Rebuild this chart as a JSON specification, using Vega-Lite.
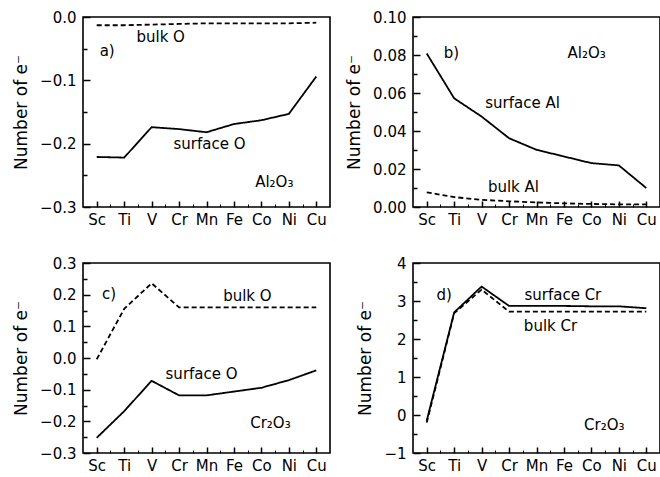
{
  "$schema": "https://vega.github.io/schema/vega-lite/v6.json",
  "padding": {"left": 11, "top": 9, "right": 1, "bottom": 2},
  "background": "white",
  "datasets": {
    "lines": [
      {"panel": "a", "series": "surface O", "kind": "surface", "el": "Sc", "Z": 21, "v": -0.221},
      {"panel": "a", "series": "surface O", "kind": "surface", "el": "Ti", "Z": 22, "v": -0.222},
      {"panel": "a", "series": "surface O", "kind": "surface", "el": "V", "Z": 23, "v": -0.174},
      {"panel": "a", "series": "surface O", "kind": "surface", "el": "Cr", "Z": 24, "v": -0.177},
      {"panel": "a", "series": "surface O", "kind": "surface", "el": "Mn", "Z": 25, "v": -0.182},
      {"panel": "a", "series": "surface O", "kind": "surface", "el": "Fe", "Z": 26, "v": -0.169},
      {"panel": "a", "series": "surface O", "kind": "surface", "el": "Co", "Z": 27, "v": -0.163},
      {"panel": "a", "series": "surface O", "kind": "surface", "el": "Ni", "Z": 28, "v": -0.153},
      {"panel": "a", "series": "surface O", "kind": "surface", "el": "Cu", "Z": 29, "v": -0.094},
      {"panel": "a", "series": "bulk O", "kind": "bulk", "el": "Sc", "Z": 21, "v": -0.013},
      {"panel": "a", "series": "bulk O", "kind": "bulk", "el": "Ti", "Z": 22, "v": -0.013},
      {"panel": "a", "series": "bulk O", "kind": "bulk", "el": "V", "Z": 23, "v": -0.012},
      {"panel": "a", "series": "bulk O", "kind": "bulk", "el": "Cr", "Z": 24, "v": -0.011},
      {"panel": "a", "series": "bulk O", "kind": "bulk", "el": "Mn", "Z": 25, "v": -0.010},
      {"panel": "a", "series": "bulk O", "kind": "bulk", "el": "Fe", "Z": 26, "v": -0.010},
      {"panel": "a", "series": "bulk O", "kind": "bulk", "el": "Co", "Z": 27, "v": -0.010},
      {"panel": "a", "series": "bulk O", "kind": "bulk", "el": "Ni", "Z": 28, "v": -0.010},
      {"panel": "a", "series": "bulk O", "kind": "bulk", "el": "Cu", "Z": 29, "v": -0.009},
      {"panel": "b", "series": "surface Al", "kind": "surface", "el": "Sc", "Z": 21, "v": 0.0808},
      {"panel": "b", "series": "surface Al", "kind": "surface", "el": "Ti", "Z": 22, "v": 0.0572},
      {"panel": "b", "series": "surface Al", "kind": "surface", "el": "V", "Z": 23, "v": 0.0476},
      {"panel": "b", "series": "surface Al", "kind": "surface", "el": "Cr", "Z": 24, "v": 0.0362},
      {"panel": "b", "series": "surface Al", "kind": "surface", "el": "Mn", "Z": 25, "v": 0.0301},
      {"panel": "b", "series": "surface Al", "kind": "surface", "el": "Fe", "Z": 26, "v": 0.0266},
      {"panel": "b", "series": "surface Al", "kind": "surface", "el": "Co", "Z": 27, "v": 0.0231},
      {"panel": "b", "series": "surface Al", "kind": "surface", "el": "Ni", "Z": 28, "v": 0.0219},
      {"panel": "b", "series": "surface Al", "kind": "surface", "el": "Cu", "Z": 29, "v": 0.0100},
      {"panel": "b", "series": "bulk Al", "kind": "bulk", "el": "Sc", "Z": 21, "v": 0.0077},
      {"panel": "b", "series": "bulk Al", "kind": "bulk", "el": "Ti", "Z": 22, "v": 0.0052},
      {"panel": "b", "series": "bulk Al", "kind": "bulk", "el": "V", "Z": 23, "v": 0.0038},
      {"panel": "b", "series": "bulk Al", "kind": "bulk", "el": "Cr", "Z": 24, "v": 0.0030},
      {"panel": "b", "series": "bulk Al", "kind": "bulk", "el": "Mn", "Z": 25, "v": 0.0024},
      {"panel": "b", "series": "bulk Al", "kind": "bulk", "el": "Fe", "Z": 26, "v": 0.0019},
      {"panel": "b", "series": "bulk Al", "kind": "bulk", "el": "Co", "Z": 27, "v": 0.0016},
      {"panel": "b", "series": "bulk Al", "kind": "bulk", "el": "Ni", "Z": 28, "v": 0.0014},
      {"panel": "b", "series": "bulk Al", "kind": "bulk", "el": "Cu", "Z": 29, "v": 0.0014},
      {"panel": "c", "series": "bulk O", "kind": "bulk", "el": "Sc", "Z": 21, "v": -0.004},
      {"panel": "c", "series": "bulk O", "kind": "bulk", "el": "Ti", "Z": 22, "v": 0.155},
      {"panel": "c", "series": "bulk O", "kind": "bulk", "el": "V", "Z": 23, "v": 0.236},
      {"panel": "c", "series": "bulk O", "kind": "bulk", "el": "Cr", "Z": 24, "v": 0.160},
      {"panel": "c", "series": "bulk O", "kind": "bulk", "el": "Mn", "Z": 25, "v": 0.160},
      {"panel": "c", "series": "bulk O", "kind": "bulk", "el": "Fe", "Z": 26, "v": 0.160},
      {"panel": "c", "series": "bulk O", "kind": "bulk", "el": "Co", "Z": 27, "v": 0.160},
      {"panel": "c", "series": "bulk O", "kind": "bulk", "el": "Ni", "Z": 28, "v": 0.160},
      {"panel": "c", "series": "bulk O", "kind": "bulk", "el": "Cu", "Z": 29, "v": 0.160},
      {"panel": "c", "series": "surface O", "kind": "surface", "el": "Sc", "Z": 21, "v": -0.252},
      {"panel": "c", "series": "surface O", "kind": "surface", "el": "Ti", "Z": 22, "v": -0.168},
      {"panel": "c", "series": "surface O", "kind": "surface", "el": "V", "Z": 23, "v": -0.072},
      {"panel": "c", "series": "surface O", "kind": "surface", "el": "Cr", "Z": 24, "v": -0.118},
      {"panel": "c", "series": "surface O", "kind": "surface", "el": "Mn", "Z": 25, "v": -0.118},
      {"panel": "c", "series": "surface O", "kind": "surface", "el": "Fe", "Z": 26, "v": -0.106},
      {"panel": "c", "series": "surface O", "kind": "surface", "el": "Co", "Z": 27, "v": -0.094},
      {"panel": "c", "series": "surface O", "kind": "surface", "el": "Ni", "Z": 28, "v": -0.070},
      {"panel": "c", "series": "surface O", "kind": "surface", "el": "Cu", "Z": 29, "v": -0.039},
      {"panel": "d", "series": "surface Cr", "kind": "surface", "el": "Sc", "Z": 21, "v": -0.15},
      {"panel": "d", "series": "surface Cr", "kind": "surface", "el": "Ti", "Z": 22, "v": 2.70},
      {"panel": "d", "series": "surface Cr", "kind": "surface", "el": "V", "Z": 23, "v": 3.38},
      {"panel": "d", "series": "surface Cr", "kind": "surface", "el": "Cr", "Z": 24, "v": 2.87},
      {"panel": "d", "series": "surface Cr", "kind": "surface", "el": "Mn", "Z": 25, "v": 2.87},
      {"panel": "d", "series": "surface Cr", "kind": "surface", "el": "Fe", "Z": 26, "v": 2.87},
      {"panel": "d", "series": "surface Cr", "kind": "surface", "el": "Co", "Z": 27, "v": 2.86},
      {"panel": "d", "series": "surface Cr", "kind": "surface", "el": "Ni", "Z": 28, "v": 2.86},
      {"panel": "d", "series": "surface Cr", "kind": "surface", "el": "Cu", "Z": 29, "v": 2.81},
      {"panel": "d", "series": "bulk Cr", "kind": "bulk", "el": "Sc", "Z": 21, "v": -0.2},
      {"panel": "d", "series": "bulk Cr", "kind": "bulk", "el": "Ti", "Z": 22, "v": 2.68},
      {"panel": "d", "series": "bulk Cr", "kind": "bulk", "el": "V", "Z": 23, "v": 3.30},
      {"panel": "d", "series": "bulk Cr", "kind": "bulk", "el": "Cr", "Z": 24, "v": 2.72},
      {"panel": "d", "series": "bulk Cr", "kind": "bulk", "el": "Mn", "Z": 25, "v": 2.72},
      {"panel": "d", "series": "bulk Cr", "kind": "bulk", "el": "Fe", "Z": 26, "v": 2.72},
      {"panel": "d", "series": "bulk Cr", "kind": "bulk", "el": "Co", "Z": 27, "v": 2.72},
      {"panel": "d", "series": "bulk Cr", "kind": "bulk", "el": "Ni", "Z": 28, "v": 2.72},
      {"panel": "d", "series": "bulk Cr", "kind": "bulk", "el": "Cu", "Z": 29, "v": 2.72}
    ],
    "notes": [
      {"panel": "a", "Z": 21.38, "v": -0.053, "t": "a)"},
      {"panel": "a", "Z": 23.33, "v": -0.032, "t": "bulk O"},
      {"panel": "a", "Z": 25.11, "v": -0.2, "t": "surface O"},
      {"panel": "a", "Z": 27.47, "v": -0.26, "t": "Al₂O₃"},
      {"panel": "b", "Z": 21.9, "v": 0.081, "t": "b)"},
      {"panel": "b", "Z": 26.83, "v": 0.081, "t": "Al₂O₃"},
      {"panel": "b", "Z": 24.49, "v": 0.055, "t": "surface Al"},
      {"panel": "b", "Z": 24.16, "v": 0.0107, "t": "bulk Al"},
      {"panel": "c", "Z": 21.45, "v": 0.203, "t": "c)"},
      {"panel": "c", "Z": 26.49, "v": 0.197, "t": "bulk O"},
      {"panel": "c", "Z": 24.82, "v": -0.051, "t": "surface O"},
      {"panel": "c", "Z": 27.33, "v": -0.205, "t": "Cr₂O₃"},
      {"panel": "d", "Z": 21.64, "v": 3.17, "t": "d)"},
      {"panel": "d", "Z": 25.96, "v": 3.17, "t": "surface Cr"},
      {"panel": "d", "Z": 25.51, "v": 2.33, "t": "bulk Cr"},
      {"panel": "d", "Z": 27.47, "v": -0.26, "t": "Cr₂O₃"}
    ]
  },
  "columns": 2,
  "spacing": {"row": 56, "column": 83},
  "bounds": "flush",
  "concat": [
    {
      "width": 247, "height": 190,
      "resolve": {"axis": {"x": "independent", "y": "independent"}},
      "layer": [
        {
          "data": {"name": "lines"},
          "transform": [{"filter": "datum.panel === 'a'"}],
          "mark": {"type": "line", "color": "black", "strokeWidth": 1.8},
          "encoding": {
            "x": {"field": "Z", "type": "quantitative", "scale": {"domain": [20.5, 29.5], "nice": false, "zero": false},
                  "axis": {"orient": "bottom", "values": [21, 22, 23, 24, 25, 26, 27, 28, 29], "labelExpr": "['Sc','Ti','V','Cr','Mn','Fe','Co','Ni','Cu'][datum.value-21]", "title": null,
                           "ticks": true, "tickSize": 6, "offset": -6, "tickColor": "black", "tickWidth": 1.5, "tickOpacity": 1}},
            "y": {"field": "v", "type": "quantitative", "scale": {"domain": [-0.3, 0], "nice": false, "zero": false},
                  "axis": {"orient": "left", "title": "Number of e⁻", "values": [0, -0.1, -0.2, -0.3], "format": ".1f",
                           "ticks": true, "tickSize": 7, "offset": -7, "tickColor": "black", "tickWidth": 1.5, "tickOpacity": 1}},
            "detail": {"field": "series"},
            "strokeDash": {"field": "kind", "type": "nominal", "scale": {"domain": ["surface", "bulk"], "range": [[1, 0], [5, 3]]}, "legend": null}
          }
        },
        {
          "data": {"name": "notes"},
          "transform": [{"filter": "datum.panel === 'a'"}],
          "mark": {"type": "text", "color": "black", "fontSize": 15},
          "encoding": {
            "x": {"field": "Z", "type": "quantitative", "axis": {"orient": "bottom", "values": [21.5, 22.5, 23.5, 24.5, 25.5, 26.5, 27.5, 28.5], "labels": false, "title": null, "ticks": true, "tickSize": 3, "offset": -3, "tickColor": "black", "tickWidth": 1}},
            "y": {"field": "v", "type": "quantitative", "axis": {"orient": "left", "values": [-0.05, -0.15, -0.25], "labels": false, "title": null, "ticks": true, "tickSize": 4, "offset": -4, "tickColor": "black", "tickWidth": 1.5}},
            "text": {"field": "t"}
          }
        }
      ]
    },
    {
      "width": 247, "height": 190,
      "resolve": {"axis": {"x": "independent", "y": "independent"}},
      "layer": [
        {
          "data": {"name": "lines"},
          "transform": [{"filter": "datum.panel === 'b'"}],
          "mark": {"type": "line", "color": "black", "strokeWidth": 1.8},
          "encoding": {
            "x": {"field": "Z", "type": "quantitative", "scale": {"domain": [20.5, 29.5], "nice": false, "zero": false},
                  "axis": {"orient": "bottom", "values": [21, 22, 23, 24, 25, 26, 27, 28, 29], "labelExpr": "['Sc','Ti','V','Cr','Mn','Fe','Co','Ni','Cu'][datum.value-21]", "title": null,
                           "ticks": true, "tickSize": 6, "offset": -6, "tickColor": "black", "tickWidth": 1.5, "tickOpacity": 1}},
            "y": {"field": "v", "type": "quantitative", "scale": {"domain": [0, 0.1], "nice": false, "zero": false},
                  "axis": {"orient": "left", "title": "Number of e⁻", "values": [0, 0.02, 0.04, 0.06, 0.08, 0.1], "format": ".2f",
                           "ticks": true, "tickSize": 7, "offset": -7, "tickColor": "black", "tickWidth": 1.5, "tickOpacity": 1}},
            "detail": {"field": "series"},
            "strokeDash": {"field": "kind", "type": "nominal", "scale": {"domain": ["surface", "bulk"], "range": [[1, 0], [8, 4]]}, "legend": null}
          }
        },
        {
          "data": {"name": "notes"},
          "transform": [{"filter": "datum.panel === 'b'"}],
          "mark": {"type": "text", "color": "black", "fontSize": 15},
          "encoding": {
            "x": {"field": "Z", "type": "quantitative", "axis": {"orient": "bottom", "values": [21.5, 22.5, 23.5, 24.5, 25.5, 26.5, 27.5, 28.5], "labels": false, "title": null, "ticks": true, "tickSize": 3, "offset": -3, "tickColor": "black", "tickWidth": 1}},
            "y": {"field": "v", "type": "quantitative", "axis": {"orient": "left", "values": [0.01, 0.03, 0.05, 0.07, 0.09], "labels": false, "title": null, "ticks": true, "tickSize": 4, "offset": -4, "tickColor": "black", "tickWidth": 1.5}},
            "text": {"field": "t"}
          }
        }
      ]
    },
    {
      "width": 247, "height": 190,
      "resolve": {"axis": {"x": "independent", "y": "independent"}},
      "layer": [
        {
          "data": {"name": "lines"},
          "transform": [{"filter": "datum.panel === 'c'"}],
          "mark": {"type": "line", "color": "black", "strokeWidth": 1.8},
          "encoding": {
            "x": {"field": "Z", "type": "quantitative", "scale": {"domain": [20.5, 29.5], "nice": false, "zero": false},
                  "axis": {"orient": "bottom", "values": [21, 22, 23, 24, 25, 26, 27, 28, 29], "labelExpr": "['Sc','Ti','V','Cr','Mn','Fe','Co','Ni','Cu'][datum.value-21]", "title": null,
                           "ticks": true, "tickSize": 6, "offset": -6, "tickColor": "black", "tickWidth": 1.5, "tickOpacity": 1}},
            "y": {"field": "v", "type": "quantitative", "scale": {"domain": [-0.3, 0.3], "nice": false, "zero": false},
                  "axis": {"orient": "left", "title": "Number of e⁻", "values": [-0.3, -0.2, -0.1, 0, 0.1, 0.2, 0.3], "format": ".1f",
                           "ticks": true, "tickSize": 7, "offset": -7, "tickColor": "black", "tickWidth": 1.5, "tickOpacity": 1}},
            "detail": {"field": "series"},
            "strokeDash": {"field": "kind", "type": "nominal", "scale": {"domain": ["surface", "bulk"], "range": [[1, 0], [9, 5]]}, "legend": null}
          }
        },
        {
          "data": {"name": "notes"},
          "transform": [{"filter": "datum.panel === 'c'"}],
          "mark": {"type": "text", "color": "black", "fontSize": 15},
          "encoding": {
            "x": {"field": "Z", "type": "quantitative", "axis": {"orient": "bottom", "values": [21.5, 22.5, 23.5, 24.5, 25.5, 26.5, 27.5, 28.5], "labels": false, "title": null, "ticks": true, "tickSize": 3, "offset": -3, "tickColor": "black", "tickWidth": 1}},
            "y": {"field": "v", "type": "quantitative", "axis": {"orient": "left", "values": [-0.25, -0.15, -0.05, 0.05, 0.15, 0.25], "labels": false, "title": null, "ticks": true, "tickSize": 4, "offset": -4, "tickColor": "black", "tickWidth": 1.5}},
            "text": {"field": "t"}
          }
        }
      ]
    },
    {
      "width": 247, "height": 190,
      "resolve": {"axis": {"x": "independent", "y": "independent"}},
      "layer": [
        {
          "data": {"name": "lines"},
          "transform": [{"filter": "datum.panel === 'd'"}],
          "mark": {"type": "line", "color": "black", "strokeWidth": 1.8},
          "encoding": {
            "x": {"field": "Z", "type": "quantitative", "scale": {"domain": [20.5, 29.5], "nice": false, "zero": false},
                  "axis": {"orient": "bottom", "values": [21, 22, 23, 24, 25, 26, 27, 28, 29], "labelExpr": "['Sc','Ti','V','Cr','Mn','Fe','Co','Ni','Cu'][datum.value-21]", "title": null,
                           "ticks": true, "tickSize": 6, "offset": -6, "tickColor": "black", "tickWidth": 1.5, "tickOpacity": 1}},
            "y": {"field": "v", "type": "quantitative", "scale": {"domain": [-1, 4], "nice": false, "zero": false},
                  "axis": {"orient": "left", "title": "Number of e⁻", "values": [-1, 0, 1, 2, 3, 4], "format": "d",
                           "ticks": true, "tickSize": 7, "offset": -7, "tickColor": "black", "tickWidth": 1.5, "tickOpacity": 1}},
            "detail": {"field": "series"},
            "strokeDash": {"field": "kind", "type": "nominal", "scale": {"domain": ["surface", "bulk"], "range": [[1, 0], [9, 4]]}, "legend": null}
          }
        },
        {
          "data": {"name": "notes"},
          "transform": [{"filter": "datum.panel === 'd'"}],
          "mark": {"type": "text", "color": "black", "fontSize": 15},
          "encoding": {
            "x": {"field": "Z", "type": "quantitative", "axis": {"orient": "bottom", "values": [21.5, 22.5, 23.5, 24.5, 25.5, 26.5, 27.5, 28.5], "labels": false, "title": null, "ticks": true, "tickSize": 3, "offset": -3, "tickColor": "black", "tickWidth": 1}},
            "y": {"field": "v", "type": "quantitative", "axis": {"orient": "left", "values": [-0.5, 0.5, 1.5, 2.5, 3.5], "labels": false, "title": null, "ticks": true, "tickSize": 4, "offset": -4, "tickColor": "black", "tickWidth": 1.5}},
            "text": {"field": "t"}
          }
        }
      ]
    }
  ],
  "config": {
    "font": "DejaVu Sans",
    "view": {"stroke": "black", "strokeWidth": 1.6},
    "axis": {
      "grid": false, "domain": false,
      "labelColor": "black", "labelFontSize": 15, "labelPadding": 7,
      "titleColor": "black", "titleFontSize": 17, "titleFontWeight": "normal", "titlePadding": 9,
      "labelFlush": false, "labelOverlap": false
    },
    "axisX": {"labelPadding": 5}
  }
}
